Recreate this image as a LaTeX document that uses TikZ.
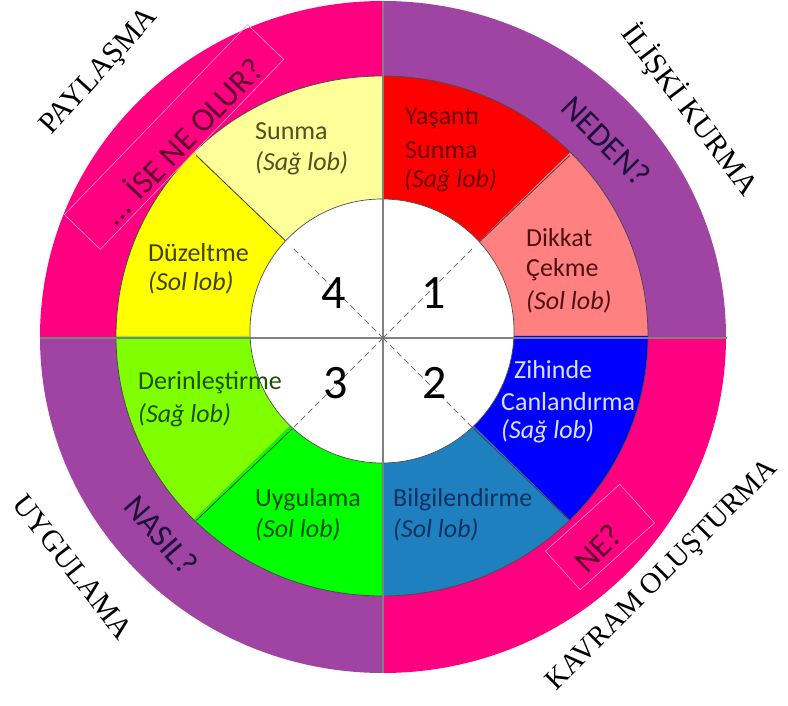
\documentclass[tikz,border=0pt]{standalone}
\usepackage{fontspec}
\setmainfont{Liberation Serif}
\newfontfamily\calfont{Carlito}
\definecolor{ringpink}{RGB}{255,0,128}
\definecolor{ringpurple}{RGB}{160,68,164}
\definecolor{segred}{RGB}{255,0,0}
\definecolor{segsalmon}{RGB}{255,128,128}
\definecolor{segblue}{RGB}{0,0,255}
\definecolor{segsteel}{RGB}{31,128,192}
\definecolor{seggreen}{RGB}{0,255,0}
\definecolor{seglime}{RGB}{128,255,0}
\definecolor{segyellow}{RGB}{255,255,0}
\definecolor{segpale}{RGB}{255,255,153}
\definecolor{tred}{RGB}{110,0,0}
\definecolor{tsalmon}{RGB}{80,16,16}
\definecolor{tblue}{RGB}{220,224,255}
\definecolor{tsteel}{RGB}{16,48,96}
\definecolor{tgreen}{RGB}{0,80,0}
\definecolor{tlime}{RGB}{30,80,0}
\definecolor{tyellow}{RGB}{64,64,0}
\definecolor{tpale}{RGB}{80,80,32}
\definecolor{tringpink}{RGB}{90,0,45}
\definecolor{tringpurple}{RGB}{30,16,60}
\tikzset{
  segtext/.style={font=\calfont\fontsize{26}{30}\selectfont, anchor=west, inner sep=0pt},
  numtext/.style={font=\calfont\fontsize{48}{48}\selectfont, inner sep=0pt},
  ringtext/.style={font=\calfont\fontsize{33}{33}\selectfont, inner sep=0pt},
  outertext/.style={font=\fontsize{30}{30}\selectfont, inner sep=0pt},
  segline/.style={draw=black!75, line width=0.8pt},
  crossline/.style={draw=black!50, line width=1.3pt},
  diagline/.style={draw=black!55, line width=1pt, dash pattern=on 6pt off 4pt},
  faintbox/.style={draw=ringpink!40!white, line width=0.6pt}
}
\begin{document}
\begin{tikzpicture}[x=1pt,y=1pt]
\useasboundingbox (-383,-368) rectangle (405,338);
\coordinate (c) at (0,1);
\coordinate (m) at (-1,2);
% outer ring quadrants
\fill[ringpink] (c) -- ++(90:343 and 336) arc[start angle=90, end angle=180, x radius=343, y radius=336] -- cycle;
\fill[ringpurple] (c) -- ++(0:343 and 336) arc[start angle=0, end angle=90, x radius=343, y radius=336] -- cycle;
\fill[ringpurple] (c) -- ++(180:343 and 336) arc[start angle=180, end angle=270, x radius=343, y radius=336] -- cycle;
\fill[ringpink] (c) -- ++(270:343 and 336) arc[start angle=270, end angle=360, x radius=343, y radius=336] -- cycle;
% coloured segments
\foreach \a/\col in {0/segsalmon,45/segred,90/segpale,135/segyellow,180/seglime,225/seggreen,270/segsteel,315/segblue}{
  \fill[\col] (m) -- ++(\a:266 and 260) arc[start angle=\a, end angle=\a+45, x radius=266, y radius=260] -- cycle;
}
\draw[black!70, line width=0.8pt] (m) ellipse[x radius=266, y radius=260];
\foreach \a in {45,135,225,315}{
  \draw[segline] (\a:128) -- (\a:264 and 258);
}
% inner white circle
\fill[white] (-1,7) circle[radius=132];
\draw[black!70, line width=0.7pt] (-1,7) circle[radius=132];
% cross lines
\coordinate (ctop) at (0,337);
\coordinate (cbot) at (0,-335);
\coordinate (cleft) at (-343,0);
\coordinate (cright) at (344,0);
\draw[crossline] (ctop) -- (cbot);
\draw[crossline] (cleft) -- (cright);
\foreach \a in {45,135,225,315}{
  \draw[diagline] (0,0) -- (\a:130);
}
% faint text-box outlines
\draw[faintbox, rotate around={46:(-209,201)}] (-341,176) rectangle (-77,226);
\draw[faintbox, rotate around={42:(217,-199)}] (167,-225) rectangle (267,-173);
% numbers
\node[numtext] (n4) at (-49,45) {4};
\node[numtext] (n1) at (51,45) {1};
\node[numtext] (n3) at (-47,-45) {3};
\node[numtext] (n2) at (52,-45) {2};
% segment texts
\node[segtext, text=tpale] (s1a) at (-128,207) {Sunma};
\node[segtext, text=tpale] (s1b) at (-128,175) {\itshape (Sağ lob)};
\node[segtext, text=tyellow] (s2a) at (-235,85) {Düzeltme};
\node[segtext, text=tyellow] (s2b) at (-235,55) {\itshape (Sol lob)};
\node[segtext, text=tred] (s3a) at (22,220) {Yaşantı};
\node[segtext, text=tred] (s3b) at (22,188) {Sunma};
\node[segtext, text=tred] (s3c) at (21,158) {\itshape (Sağ lob)};
\node[segtext, text=tsalmon] (s4a) at (143,100) {Dikkat};
\node[segtext, text=tsalmon] (s4b) at (143,68) {Çekme};
\node[segtext, text=tsalmon] (s4c) at (143,36) {\itshape (Sol lob)};
\node[segtext, text=tblue] (s5a) at (131,-32) {Zihinde};
\node[segtext, text=tblue] (s5b) at (118,-64) {Canlandırma};
\node[segtext, text=tblue] (s5c) at (118,-93) {\itshape (Sağ lob)};
\node[segtext, text=tsteel] (s6a) at (10,-162) {Bilgilendirme};
\node[segtext, text=tsteel] (s6b) at (10,-192) {\itshape (Sol lob)};
\node[segtext, text=tgreen] (s7a) at (-128,-162) {Uygulama};
\node[segtext, text=tgreen] (s7b) at (-128,-192) {\itshape (Sol lob)};
\node[segtext, text=tlime] (s8a) at (-245,-45) {Derinleştirme};
\node[segtext, text=tlime] (s8b) at (-245,-77) {\itshape (Sağ lob)};
% ring texts
\node[ringtext, text=tringpink, rotate=46] (r1) at (-202,198) {... İSE NE OLUR?};
\node[ringtext, text=tringpurple, rotate=-45] (r2) at (223,197) {NEDEN?};
\node[ringtext, text=tringpurple, rotate=-49] (r3) at (-222,-197) {NASIL?};
\node[ringtext, text=tringpink, rotate=45] (r4) at (215,-210) {NE?};
% outer labels
\node[outertext, rotate=48] (o1) at (-283,266) {PAYLAŞMA};
\node[outertext, rotate=-53] (o2) at (307,228) {İLİŞKİ KURMA};
\node[outertext, rotate=-52] (o3) at (-310,-229) {UYGULAMA};
\node[outertext, rotate=45, font=\fontsize{29}{29}\selectfont] (o4) at (280,-238) {KAVRAM OLUŞTURMA};
\end{tikzpicture}
\end{document}
